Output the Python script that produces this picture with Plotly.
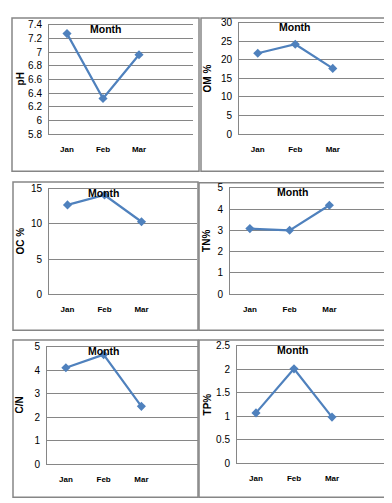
import plotly.graph_objects as go

W, H = 392, 503

months = ["Jan", "Feb", "Mar"]
ph = [7.27, 6.32, 6.96]
om = [21.8, 24.2, 17.7]
oc = [12.7, 14.1, 10.3]
tn = [3.08, 3.00, 4.18]
cn = [4.11, 4.67, 2.46]
tp = [1.07, 2.01, 0.98]

ph_ticks = [5.8, 6.0, 6.2, 6.4, 6.6, 6.8, 7.0, 7.2, 7.4]
ph_labels = ["5.8", "6", "6.2", "6.4", "6.6", "6.8", "7", "7.2", "7.4"]
om_ticks = [0, 5, 10, 15, 20, 25, 30]
oc_ticks = [0, 5, 10, 15]
tn_ticks = [0, 1, 2, 3, 4, 5]
cn_ticks = [0, 1, 2, 3, 4, 5]
tp_ticks = [0, 0.5, 1, 1.5, 2, 2.5]
tp_labels = ["0", "0.5", "1", "1.5", "2", "2.5"]

titles = ["pH", "OM %", "OC %", "TN%", "C/N", "TP%"]

# layout (pixels): plot area x0,x1,y0(top),y1(bottom); outer box; y-title x
panels = [
    dict(vals=ph, ticks=ph_ticks, labels=ph_labels, area=(41, 185, 11, 123), box=(4, 191, 4, 161), tx=12, mx=98),
    dict(vals=om, ticks=om_ticks, labels=[str(t) for t in om_ticks], area=(231, 381, 9, 123), box=(193, 383, 4, 161), tx=199, mx=287),
    dict(vals=oc, ticks=oc_ticks, labels=[str(t) for t in oc_ticks], area=(41, 189, 179, 287), box=(5, 190, 172, 324), tx=12, mx=96),
    dict(vals=tn, ticks=tn_ticks, labels=[str(t) for t in tn_ticks], area=(222, 381, 178, 287), box=(191, 382, 173, 324), tx=199, mx=285),
    dict(vals=cn, ticks=cn_ticks, labels=[str(t) for t in cn_ticks], area=(39, 190, 341, 461), box=(5, 190, 334, 495), tx=11, mx=96),
    dict(vals=tp, ticks=tp_ticks, labels=tp_labels, area=(229, 381, 340, 460), box=(191, 383, 334, 495), tx=199, mx=285),
]

def px(x):
    return x / W

def py(y):
    return 1 - y / H

BLUE = "#4F81BD"
GRID = "#868686"
FONT = "Liberation Sans, Arial, sans-serif"

fig = go.Figure()
layout = dict(
    width=W, height=H,
    margin=dict(l=0, r=0, t=0, b=0),
    paper_bgcolor="white", plot_bgcolor="white",
    showlegend=False,
    font=dict(family=FONT, color="black", size=10),
)
shapes = []
annotations = []

for i, p in enumerate(panels):
    n = "" if i == 0 else str(i + 1)
    x0, x1, y0, y1 = p["area"]
    fig.add_trace(go.Scatter(
        x=[0, 1, 2], y=p["vals"], mode="lines+markers",
        line=dict(color=BLUE, width=2.2),
        marker=dict(symbol="diamond", size=7, color=BLUE),
        xaxis="x" + n, yaxis="y" + n, cliponaxis=False,
    ))
    layout["xaxis" + n] = dict(
        domain=[px(x0), px(x1)], anchor="y" + n,
        range=[-0.5, 3.5], tickvals=[0, 1, 2], ticktext=months,
        showgrid=False, zeroline=False,
        showline=True, linecolor=GRID, linewidth=1, mirror=True,
        ticks="outside", ticklen=7, tickcolor="rgba(0,0,0,0)",
        tickfont=dict(family=FONT, size=8, color="black", weight="bold"),
        fixedrange=True,
    )
    t = p["ticks"]
    layout["yaxis" + n] = dict(
        domain=[py(y1), py(y0)], anchor="x" + n,
        range=[t[0], t[-1]], tickvals=t, ticktext=p["labels"],
        showgrid=True, gridcolor=GRID, gridwidth=1, zeroline=False,
        showline=True, linecolor=GRID, linewidth=1,
        ticks="outside", ticklen=4, tickcolor="rgba(0,0,0,0)",
        tickfont=dict(family=FONT, size=10, color="black"),
        fixedrange=True,
    )
    bx0, bx1, by0, by1 = p["box"]
    shapes.append(dict(type="rect", xref="paper", yref="paper",
                       x0=px(bx0), x1=px(bx1), y0=py(by1), y1=py(by0),
                       line=dict(color=GRID, width=1.5), layer="below"))
    annotations.append(dict(text="<b>Month</b>", xref="paper", yref="paper",
                            x=px(p["mx"]), y=py(y0 + 4), showarrow=False,
                            font=dict(family=FONT, size=10.5, color="black"),
                            xanchor="center", yanchor="middle"))
    annotations.append(dict(text="<b>" + titles[i] + "</b>", xref="paper", yref="paper",
                            x=px(p["tx"]), y=py((y0 + y1) / 2), showarrow=False,
                            textangle=-90,
                            font=dict(family=FONT, size=10, color="black"),
                            xanchor="center", yanchor="middle"))

layout["shapes"] = shapes
layout["annotations"] = annotations
fig.update_layout(**layout)
fig.write_html("out.html")
